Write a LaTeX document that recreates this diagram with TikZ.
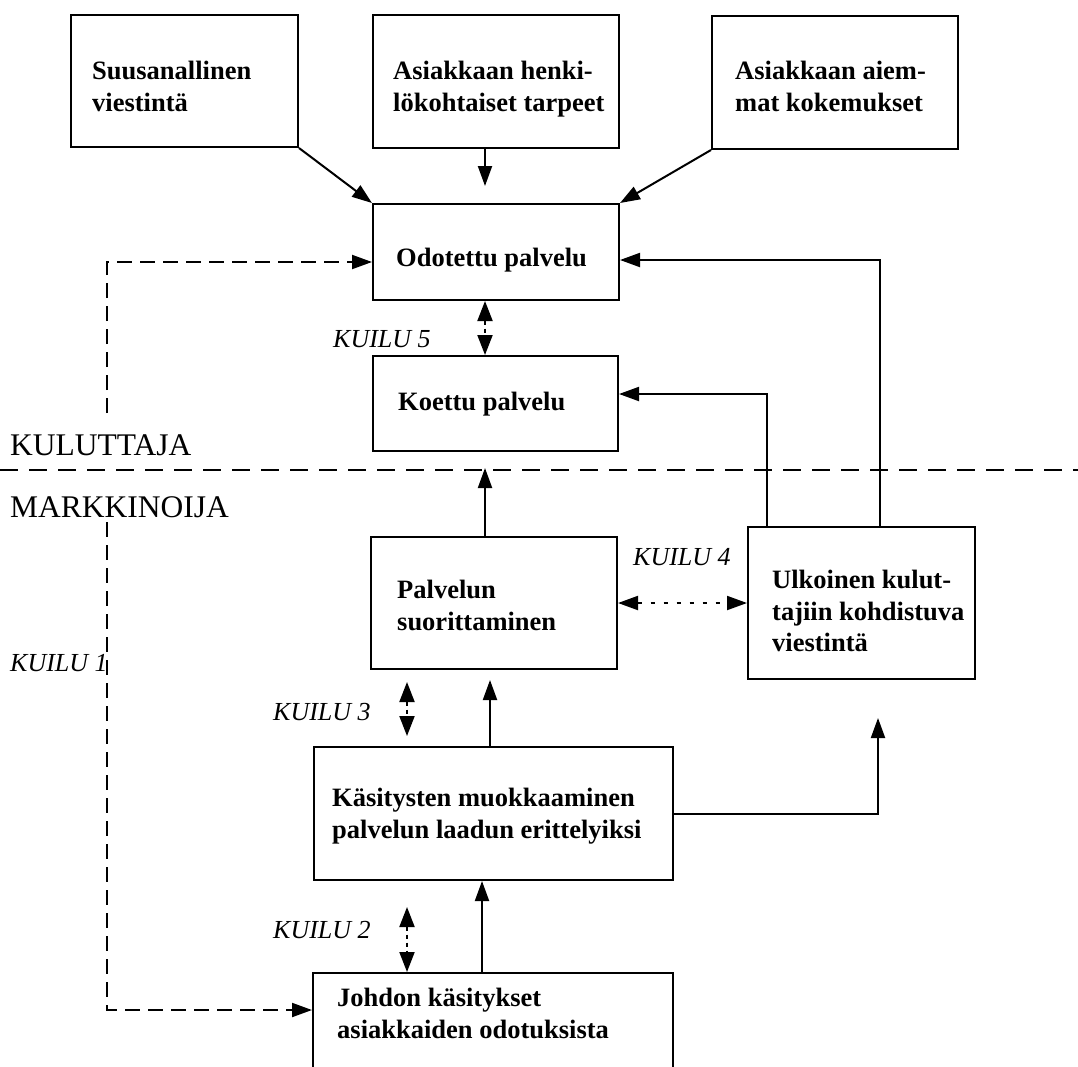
\documentclass[tikz,border=0pt]{standalone}
\usepackage{fontspec}
\setmainfont{Liberation Serif}
\usetikzlibrary{arrows.meta,calc}
\newcommand\boxfont{\bfseries\fontsize{26.5}{31.5}\selectfont}
\newcommand\gapfont{\itshape\fontsize{26}{30}\selectfont}
\newcommand\sidefont{\fontsize{31.5}{36}\selectfont}
\tikzset{
  box/.style={draw, line width=2pt, inner sep=0pt, anchor=north west},
  txt/.style={anchor=north west, inner sep=0pt, align=left, font=\boxfont},
  gaplabel/.style={anchor=base west, inner sep=0pt, font=\gapfont},
  sidelabel/.style={anchor=base west, inner sep=0pt, font=\sidefont},
  conn/.style={line width=2pt, -{Triangle[length=20pt,width=14pt]}},
  gaparrow/.style={line width=2pt, dash pattern=on 4pt off 4pt,
    {Triangle[length=20pt,width=15pt]}-{Triangle[length=20pt,width=15pt]}},
  dotarrow/.style={line width=2pt, dash pattern=on 4pt off 9pt,
    {Triangle[length=20pt,width=14pt]}-{Triangle[length=20pt,width=14pt]}},
  dasharrow/.style={line width=2pt, dash pattern=on 15pt off 8pt,
    -{Triangle[length=20pt,width=14pt]}},
  divider/.style={line width=2pt, dash pattern=on 18pt off 11pt},
}
\begin{document}
\begin{tikzpicture}[x=1pt,y=-1pt]
\useasboundingbox (0,0) rectangle (1078,1066);
\clip (0,0) rectangle (1078,1066);
\fill[white] (0,0) rectangle (1078,1066);

% boxes
\node[box,minimum width=227pt,minimum height=132pt] (suus) at (70,14) {};
\node[box,minimum width=246pt,minimum height=133pt] (tarpeet) at (372,14) {};
\node[box,minimum width=246pt,minimum height=133pt] (kokemukset) at (711,15) {};
\node[box,minimum width=246pt,minimum height=96pt] (odotettu) at (372,203) {};
\node[box,minimum width=245pt,minimum height=95pt] (koettu) at (372,355) {};
\node[box,minimum width=246pt,minimum height=132pt] (suoritus) at (370,536) {};
\node[box,minimum width=227pt,minimum height=152pt] (viestinta) at (747,526) {};
\node[box,minimum width=359pt,minimum height=133pt] (kasitykset) at (313,746) {};
\node[box,minimum width=360pt,minimum height=130pt] (johto) at (312,972) {};

% box texts
\node[txt] (suus-t) at (92,61) {Suusanallinen\\viestintä};
\node[txt] (tarpeet-t) at (393,61) {Asiakkaan henki-\\lökohtaiset tarpeet};
\node[txt] (kokemukset-t) at (735,61) {Asiakkaan aiem-\\mat kokemukset};
\node[txt] (odotettu-t) at (396,248) {Odotettu palvelu};
\node[txt] (koettu-t) at (398,392) {Koettu palvelu};
\node[txt] (suoritus-t) at (397,580) {Palvelun\\suorittaminen};
\node[txt] (viestinta-t) at (772,570) {Ulkoinen kulut-\\tajiin kohdistuva\\viestintä};
\node[txt] (kasitykset-t) at (332,788) {Käsitysten muokkaaminen\\palvelun laadun erittelyiksi};
\node[txt] (johto-t) at (337,988) {Johdon käsitykset\\asiakkaiden odotuksista};

% side labels and gap labels
\node[sidelabel] (kuluttaja) at (10,455) {KULUTTAJA};
\node[sidelabel] (markkinoija) at (10,517) {MARKKINOIJA};
\node[gaplabel] (kuilu5) at (333,347) {KUILU 5};
\node[gaplabel] (kuilu4) at (633,565) {KUILU 4};
\node[gaplabel] (kuilu3) at (273,720) {KUILU 3};
\node[gaplabel] (kuilu2) at (273,938) {KUILU 2};
\node[gaplabel] (kuilu1) at (10,671) {KUILU 1};

% helper coordinates
\coordinate (ax) at (485,0);
\coordinate (gx) at (407,0);
\coordinate (ux) at (490,0);
\coordinate (jx) at (482,0);
\coordinate (f1) at (880,260);
\coordinate (f2) at (767,394);
\coordinate (k1a) at (107,413);
\coordinate (k1b) at (107,522);
\coordinate (uend) at (878,718);
\coordinate (k2top) at (407,907);
\coordinate (dl) at (0,470);
\coordinate (dr) at (1078,470);

% consumer / marketer divider
\draw[divider] (dl) -- (dr);

% inputs to expected service
\draw[conn] (suus.south east) -- (odotettu.north west);
\draw[conn] (tarpeet.south -| ax) -- ($(odotettu.north -| ax)+(0,-17)$);
\draw[conn] (kokemukset.south west) -- (odotettu.north east);

% external communication feedback
\draw[conn] (viestinta.north -| f1) |- (odotettu.east |- f1);
\draw[conn] (viestinta.north -| f2) |- (koettu.east |- f2);

% service delivery chain
\draw[conn] (suoritus.north -| ax) -- ($(koettu.south -| ax)+(0,16)$);
\draw[conn] (kasitykset.north -| ux) -- ($(suoritus.south -| ux)+(0,10)$);
\draw[conn] (kasitykset.east) -| (uend);
\draw[conn] (johto.north -| jx) -- (kasitykset.south -| jx);

% gaps
\draw[gaparrow] (odotettu.south -| ax) -- (koettu.north -| ax);
\draw[dotarrow] (suoritus.east) -- (viestinta.west);
\draw[gaparrow] ($(suoritus.south -| gx)+(0,12)$) -- ($(kasitykset.north -| gx)+(0,-10)$);
\draw[gaparrow] (k2top) -- (johto.north -| gx);
\draw[dasharrow] (k1a) |- ($(odotettu.west)+(0,10)$);
\draw[dasharrow] (k1b) |- ($(johto.north west)+(0,38)$);
\end{tikzpicture}
\end{document}
